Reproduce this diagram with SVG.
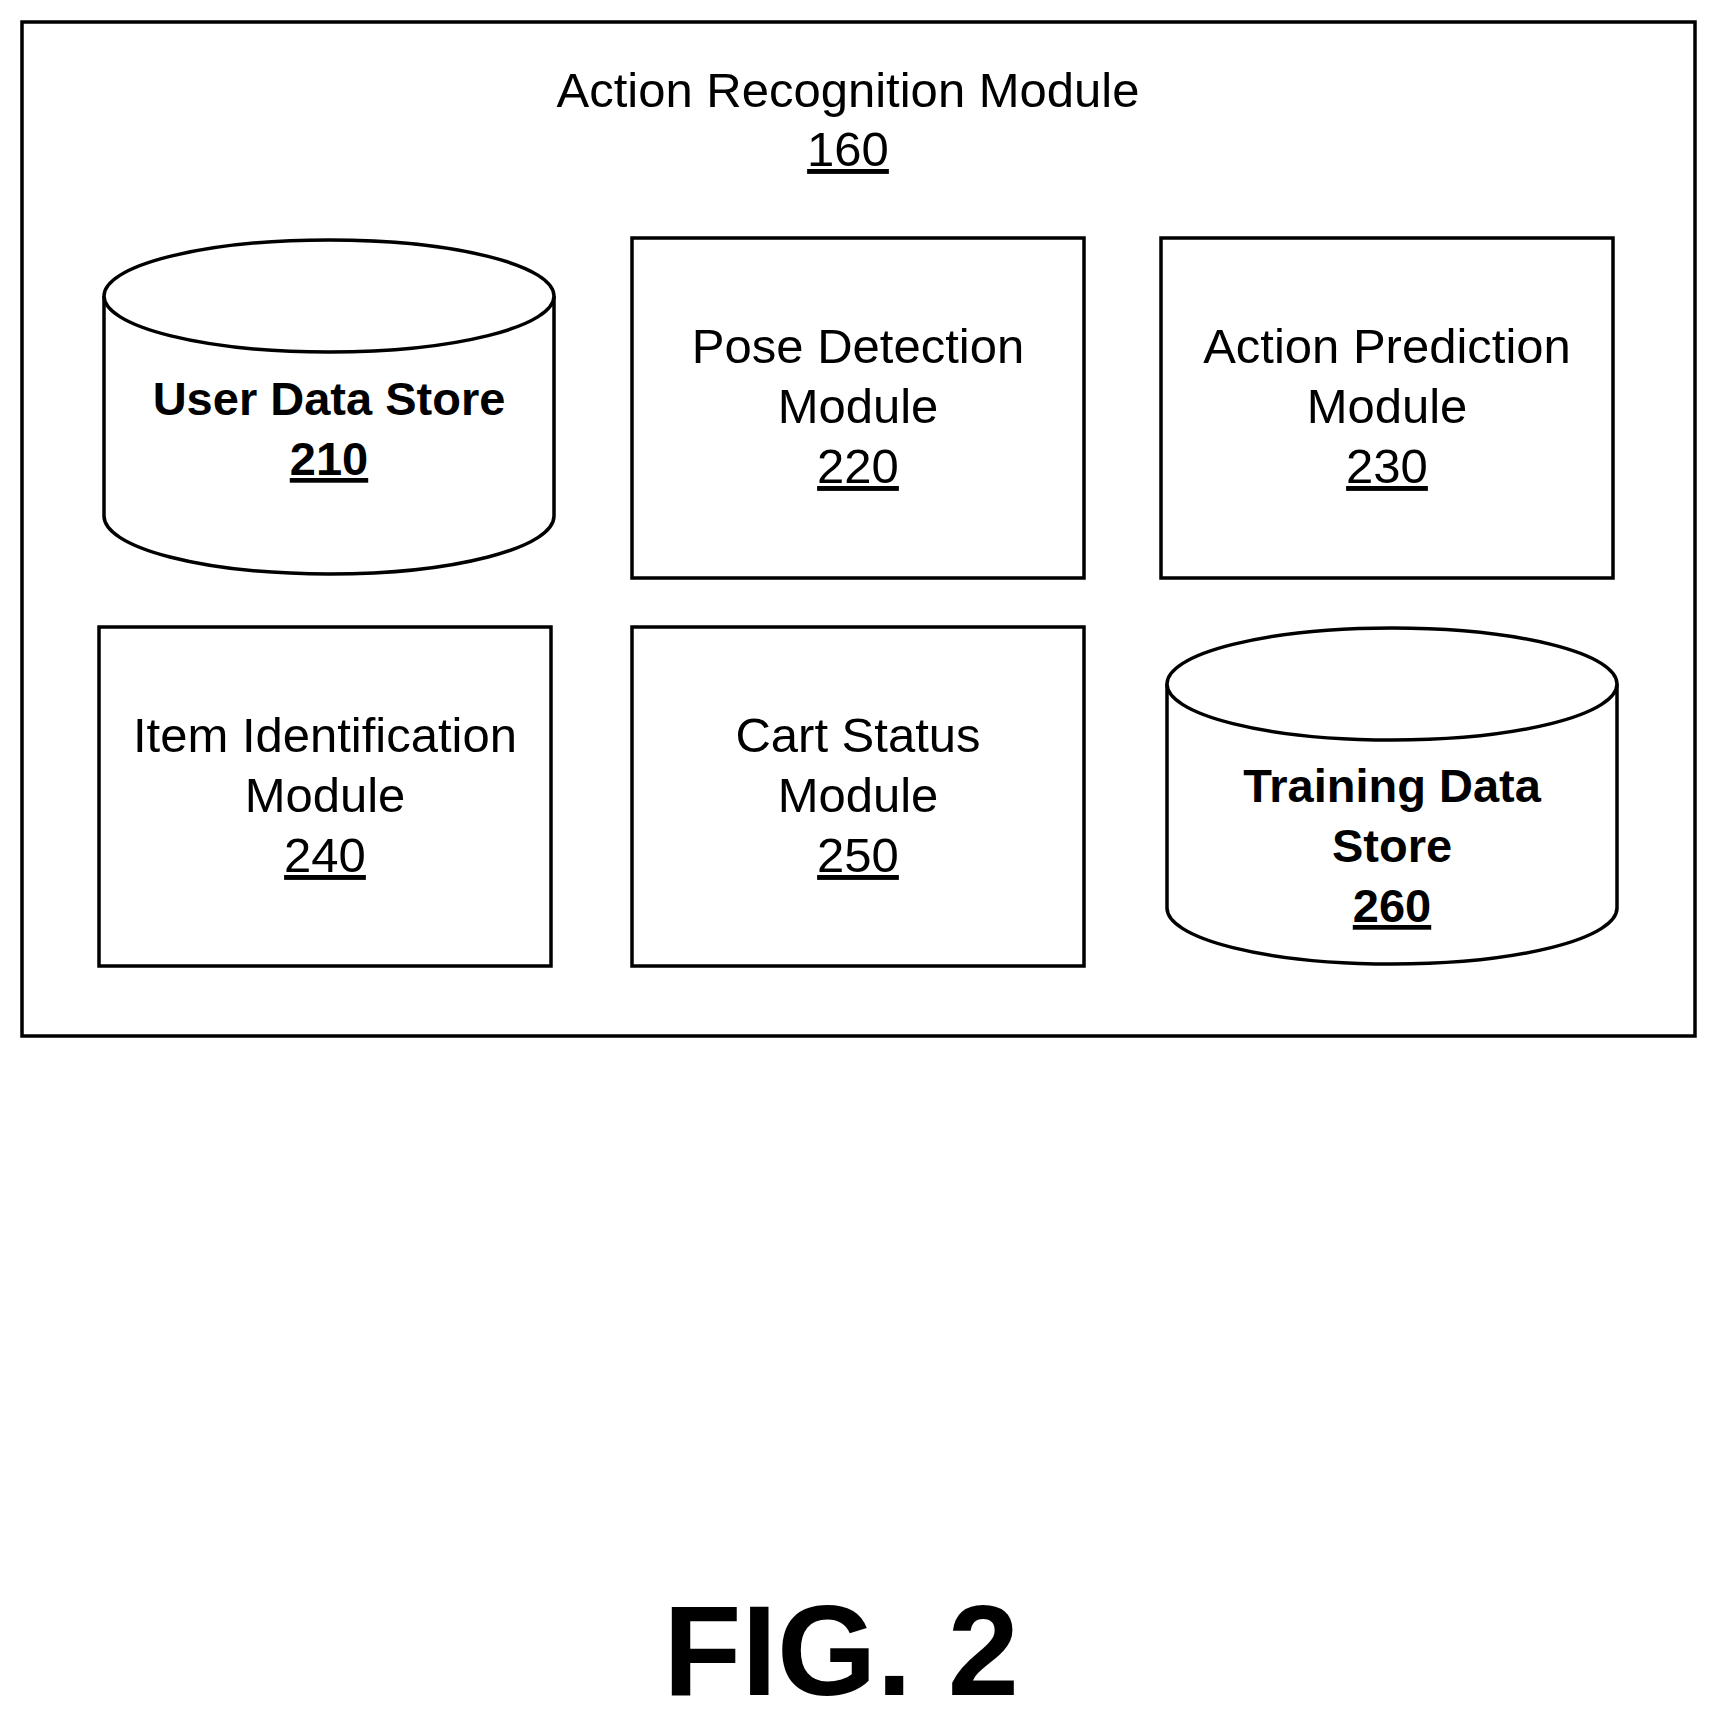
<svg xmlns="http://www.w3.org/2000/svg" width="1716" height="1719" viewBox="0 0 1716 1719">
<style>
.s{fill:#fff;stroke:#000;stroke-width:3.5}
text{font-family:"Liberation Sans",Arial,sans-serif;font-size:49px;text-anchor:middle;fill:#000}
.b{font-weight:bold;font-size:47px}
.u{text-decoration:underline}
</style>
<rect width="1716" height="1719" fill="#fff"/>
<g id="module160">
<rect class="s" x="22" y="22" width="1673" height="1014"/>
<text x="848" y="107">Action Recognition Module</text>
<text x="848" y="166" class="u">160</text>
</g>
<g id="node210">
<path class="s" d="M104 296 A225 56 0 0 1 554 296 L554 516 A225 58 0 0 1 104 516 Z"/>
<path class="s" d="M104 296 A225 56 0 0 0 554 296" fill="none"/>
<text x="329" y="415" class="b">User Data Store</text>
<text x="329" y="475" class="b u">210</text>
</g>
<g id="node220">
<rect class="s" x="632" y="238" width="452" height="340"/>
<text x="858" y="363">Pose Detection</text>
<text x="858" y="423">Module</text>
<text x="858" y="483" class="u">220</text>
</g>
<g id="node230">
<rect class="s" x="1161" y="238" width="452" height="340"/>
<text x="1387" y="363">Action Prediction</text>
<text x="1387" y="423">Module</text>
<text x="1387" y="483" class="u">230</text>
</g>
<g id="node240">
<rect class="s" x="99" y="627" width="452" height="339"/>
<text x="325" y="752">Item Identification</text>
<text x="325" y="812">Module</text>
<text x="325" y="872" class="u">240</text>
</g>
<g id="node250">
<rect class="s" x="632" y="627" width="452" height="339"/>
<text x="858" y="752">Cart Status</text>
<text x="858" y="812">Module</text>
<text x="858" y="872" class="u">250</text>
</g>
<g id="node260">
<path class="s" d="M1167 684 A225 56 0 0 1 1617 684 L1617 908 A225 56 0 0 1 1167 908 Z"/>
<path class="s" d="M1167 684 A225 56 0 0 0 1617 684" fill="none"/>
<text x="1392" y="802" class="b">Training Data</text>
<text x="1392" y="862" class="b">Store</text>
<text x="1392" y="922" class="b u">260</text>
</g>
<g id="connectors"></g>
<text x="841" y="1695" style="font-size:128px;font-weight:bold">FIG. 2</text>
</svg>
